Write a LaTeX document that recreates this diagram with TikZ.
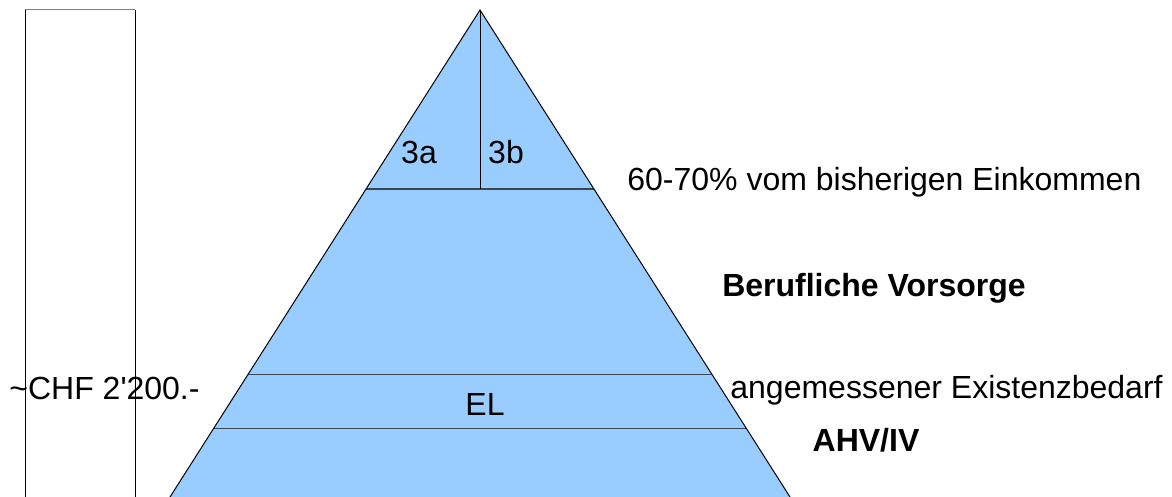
\documentclass[tikz,border=0pt]{standalone}
\usepackage{fontspec}
\setmainfont{Liberation Sans}[Ligatures=TeXOff]
\usetikzlibrary{calc}
\definecolor{pyrblue}{RGB}{153,204,255}
\definecolor{layerline}{RGB}{60,70,85}
\begin{document}
\begin{tikzpicture}
[
x = 0.5pt, y = -0.5pt,
every node/.style = {inner sep=0pt, font=\fontsize{16}{19}\selectfont},
layer/.style = {draw=layerline, line width=0.6pt},
side/.style = {draw=black, line width=0.5pt},
bold/.style = {font=\fontsize{16}{19}\selectfont\bfseries}
]
\useasboundingbox (0,0) rectangle (1172,497);
\coordinate (apex) at (480,10);
\coordinate (bl) at (170,497);
\coordinate (br) at (790,497);
\fill [pyrblue] (apex) -- (bl) -- (br) -- cycle;
\foreach \t/\n in {0.3676/top,0.7485/mid,0.8593/low}
    \draw [layer] ($(apex)!\t!(bl)$) coordinate (\n-l) -- ($(apex)!\t!(br)$) coordinate (\n-r);
\draw [side] (apex) -- (apex |- top-l);
\draw [side] (bl) -- (apex) -- (br);
\coordinate (boxtl) at (25,10);
\coordinate (boxtr) at (135,10);
\coordinate (boxbl) at (25,497);
\coordinate (boxbr) at (135,497);
\draw [side] (boxbl) -- (boxtl);
\draw [side, draw=gray] (boxtl) -- (boxtr);
\draw [side] (boxtr) -- (boxbr);
\node [anchor=base] (s3a) at (419,164) {3a};
\node [anchor=base] (s3b) at (506,164) {3b};
\node [anchor=base west] (pct) at (627,191) {60-70\% vom bisherigen Einkommen};
\node [bold, anchor=base] (bv) at (874,296) {Berufliche Vorsorge};
\node [anchor=base west] (exist) at (730,398) {angemessener Existenzbedarf};
\node [anchor=base] (el) at (485,415) {EL};
\node [bold, anchor=base] (ahv) at (866,451) {AHV/IV};
\node [anchor=base west] (chf) at (9,399) {\textasciitilde CHF 2'200.-};
\end{tikzpicture}
\end{document}
